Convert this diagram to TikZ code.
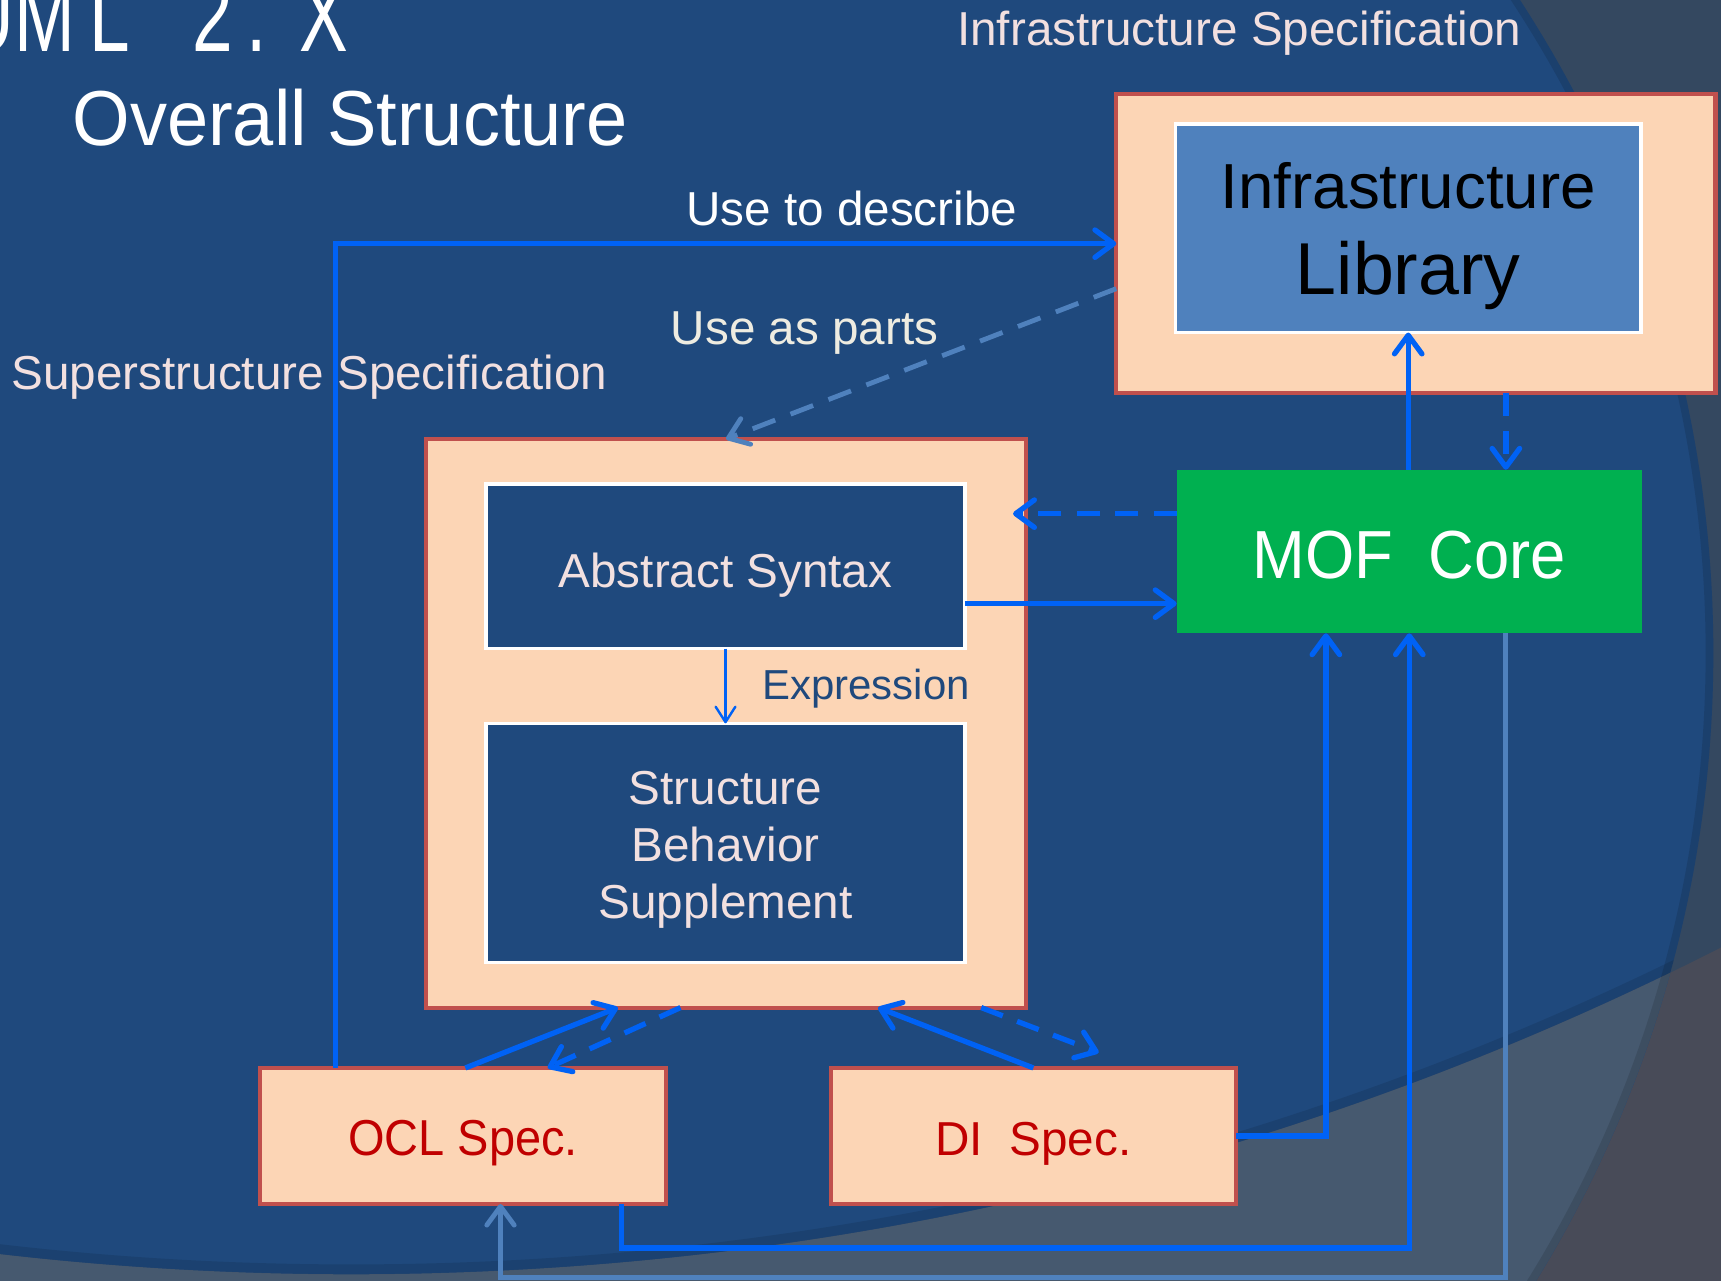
\documentclass[tikz,border=0pt]{standalone}
\usepackage{fontspec}
\setmainfont{Liberation Sans}
\newfontfamily\slimsans{Liberation Sans}[FakeStretch=0.93]
\newfontfamily\narrowsans{Liberation Sans}[FakeStretch=0.95]
\newfontfamily\tallsans{Liberation Sans}[FakeStretch=0.7]
\usetikzlibrary{arrows.meta}

\definecolor{slidebg}{RGB}{31,73,125}
\definecolor{edgeR}{RGB}{52,72,96}
\definecolor{bandB}{RGB}{70,89,111}
\definecolor{cornerC}{RGB}{72,75,88}
\definecolor{peach}{RGB}{252,213,181}
\definecolor{boxred}{RGB}{192,80,77}
\definecolor{libblue}{RGB}{79,129,189}
\definecolor{mofgreen}{RGB}{0,176,80}
\definecolor{linkblue}{RGB}{0,98,245}
\definecolor{paleblue}{RGB}{79,129,189}
\definecolor{pinkwhite}{RGB}{242,224,224}
\definecolor{cream}{RGB}{238,236,225}
\definecolor{specred}{RGB}{192,0,0}

\newcommand\szLabel{\fontsize{43.4pt}{52pt}\selectfont}

\begin{document}
\begin{tikzpicture}[x=1pt, y=-1pt,
  >={Straight Barb[length=17pt,width=25pt,round]},
  boxbase/.style={anchor=north west, inner sep=0pt, outer sep=0pt},
  specbox/.style={boxbase, fill=peach, draw=boxred, line width=3.8pt},
  libbox/.style={boxbase, fill=libblue, draw=white, line width=3.2pt},
  darkbox/.style={boxbase, fill=slidebg, draw=white, line width=3.2pt},
  mofbox/.style={boxbase, fill=mofgreen},
  link/.style={draw=linkblue, line width=4.8pt},
  dashlink/.style={link, dash pattern=on 21pt off 14pt},
  palelink/.style={draw=paleblue, line width=4.4pt},
  thinlink/.style={draw=linkblue, line width=2.2pt},
  lbltext/.style={anchor=base, inner sep=0pt, outer sep=0pt}]

\useasboundingbox (0,0) rectangle (1568,1167);

% slide backdrop: large arcs over the dark blue field
\fill[cornerC] (0,0) rectangle (1568,1167);
\begin{scope}
  \clip (320,-1597) circle[radius=2758pt];
  \fill[edgeR] (0,0) rectangle (1568,1167);
\end{scope}
\fill[slidebg] (469,595) circle[radius=1092pt];
\begin{scope}
  \clip (469,595) circle[radius=1092pt];
  \fill[bandB, even odd rule] (-20,-20) rectangle (1600,1200) (320,-1597) circle[radius=2758pt];
  \draw[black, opacity=0.12, line width=14pt] (469,595) circle[radius=1092pt];
  \begin{scope}
    \clip (320,-1597) circle[radius=2758pt];
    \draw[black, opacity=0.1, line width=18pt] (320,-1597) circle[radius=2758pt];
  \end{scope}
\end{scope}

% title
\node[anchor=base west, inner sep=0pt, text=white] (title) at (-35,47)
  {\tallsans\fontsize{95pt}{110pt}\selectfont UM\kern13pt L\kern57pt 2\kern12pt .\kern30pt X};
\node[lbltext, text=white] (subtitle) at (319,133)
  {\narrowsans\fontsize{71pt}{85pt}\selectfont Overall Structure};

% boxes
\node[specbox, minimum width=546pt, minimum height=272pt] (infra) at (1017,86) {};
\node[libbox, minimum width=424pt, minimum height=190pt] (lib) at (1071,113) {};
\node[mofbox, minimum width=424pt, minimum height=149pt, text height=49pt, text depth=0pt,
      text=white] (mof) at (1072,428) {\slimsans\fontsize{62pt}{74pt}\selectfont MOF~~Core};
\node[specbox, minimum width=547pt, minimum height=518pt] (super) at (388,400) {};
\node[darkbox, minimum width=436pt, minimum height=150pt, text height=38pt, text depth=0pt,
      text=pinkwhite] (abs) at (443,441) {\szLabel Abstract Syntax};
\node[darkbox, minimum width=436pt, minimum height=218pt] (struct) at (443,659) {};
\node[specbox, minimum width=370pt, minimum height=124pt, text height=36pt, text depth=0pt,
      text=specred] (ocl) at (237,973) {\slimsans\fontsize{46pt}{55pt}\selectfont OCL Spec.};
\node[specbox, minimum width=369pt, minimum height=124pt, text height=36pt, text depth=0pt,
      text=specred] (di) at (757,973) {\szLabel DI~~Spec.};

% box texts
\node[lbltext] (lib1) at (1283,190) {\fontsize{58pt}{70pt}\selectfont Infrastructure};
\node[lbltext] (lib2) at (1283,268) {\fontsize{67pt}{80pt}\selectfont Library};
\node[lbltext, text=pinkwhite] (struct1) at (661,733) {\szLabel Structure};
\node[lbltext, text=pinkwhite] (struct2) at (661,785) {\szLabel Behavior};
\node[lbltext, text=pinkwhite] (struct3) at (661,837) {\szLabel Supplement};

% connectors
\coordinate (dinote) at (1001,959);
\draw[link, ->] (306,0 |- ocl.north) |- (infra.west);
\draw[palelink, dash pattern=on 22pt off 15pt, ->] (infra.west |- 0,263) -- (super.north);
\draw[link, ->] (lib.south |- mof.north) -- (lib.south);
\draw[dashlink, ->] (1372,0 |- infra.south) -- (1372,0 |- mof.north);
\draw[dashlink, ->, shorten >=-12pt] (mof.west |- 0,468) -- (super.east |- 0,468);
\draw[link, ->] (abs.east |- 0,550) -- (mof.west |- 0,550);
\draw[thinlink, -{Straight Barb[length=14pt,width=18pt,round]}] (abs.south) -- (struct.north);
\draw[link, ->] (424,0 |- ocl.north) -- (563,0 |- super.south);
\draw[dashlink, ->] (620,0 |- super.south) -- (499,0 |- ocl.north);
\draw[link, ->] (di.north) -- (800,0 |- super.south);
\draw[dashlink, ->] (894,0 |- super.south) -- (dinote);
\draw[link, ->] (di.east) -| (1208,0 |- mof.south);
\draw[link, ->] (566,0 |- ocl.south) -- ++(0,40) -| (mof.south);
\draw[palelink, ->] (1372,0 |- mof.south) -- (1372,1164) -| (456,0 |- ocl.south);

% free labels
\node[lbltext, text=pinkwhite] (infraspec) at (1129,41) {\szLabel Infrastructure Specification};
\node[lbltext, text=pinkwhite] (superspec) at (282,355) {\szLabel Superstructure Specification};
\node[lbltext, text=white] (describe) at (776,205) {\szLabel Use to describe};
\node[lbltext, text=cream] (parts) at (733,314) {\szLabel Use as parts};
\node[lbltext, text=slidebg] (expr) at (789,637) {\fontsize{38.2pt}{46pt}\selectfont Expression};

\end{tikzpicture}
\end{document}
